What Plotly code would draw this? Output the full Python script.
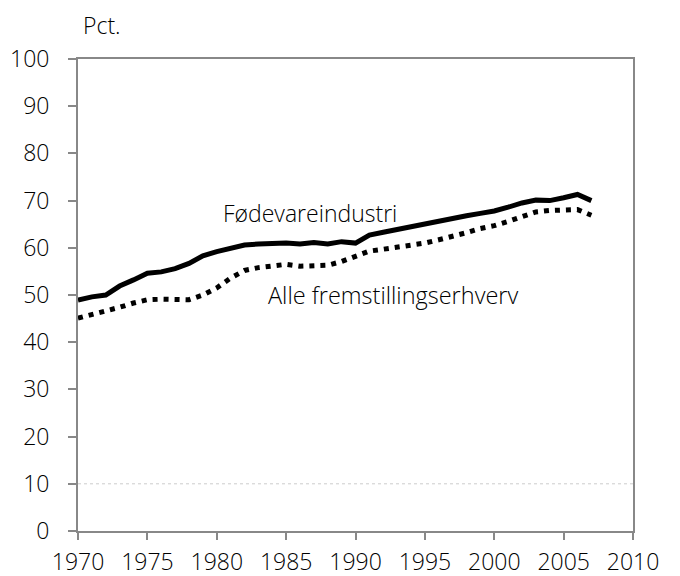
import plotly.graph_objects as go

years = list(range(1970, 2008))
foedevare = [48.9, 49.6, 50.0, 51.9, 53.2, 54.6, 54.9, 55.6, 56.7, 58.3,
             59.2, 60.0, 60.6, 60.8, 61.0, 61.0, 60.8, 61.1, 60.8, 61.3,
             61.0, 62.7, 63.3, 63.9, 64.5, 65.2, 65.7, 66.3, 66.8, 67.3,
             67.8, 68.6, 69.5, 70.1, 70.0, 70.6, 71.3, 70.0]
alle = [45.1, 45.8, 46.5, 47.4, 48.3, 49.0, 49.1, 49.1, 49.0, 50.0,
        51.5, 53.6, 55.2, 55.8, 56.2, 56.5, 56.1, 56.1, 56.3, 57.1,
        58.1, 59.3, 59.7, 60.1, 60.5, 61.0, 61.7, 62.4, 63.2, 64.1,
        64.7, 65.6, 66.6, 67.6, 67.9, 68.0, 68.1, 66.9]
x_ticks = list(range(1970, 2011, 5))
y_ticks = list(range(0, 101, 10))

FONT = "Open Sans"
fig = go.Figure()
fig.add_trace(go.Scatter(x=years, y=alle, mode="lines",
                         line=dict(color="black", width=5, dash="5px,6px")))
fig.add_trace(go.Scatter(x=years, y=foedevare, mode="lines",
                         line=dict(color="black", width=5)))

fig.add_shape(type="line", xref="paper", x0=0, x1=1, yref="y", y0=10, y1=10,
              line=dict(color="#cccccc", width=1, dash="dot"), layer="below")

fig.add_annotation(x=1986.7, y=67.3, text="Fødevareindustri", showarrow=False,
                   xanchor="center", yanchor="middle",
                   font=dict(size=23, color="black", family=FONT, weight=300))
fig.add_annotation(x=1992.7, y=49.9, text="Alle fremstillingserhverv", showarrow=False,
                   xanchor="center", yanchor="middle",
                   font=dict(size=23.5, color="black", family=FONT, weight=300))
fig.add_annotation(xref="paper", yref="paper", x=0.043, y=1.0, yshift=34, text="Pct.",
                   showarrow=False, xanchor="center", yanchor="middle",
                   font=dict(size=23, color="black", family=FONT, weight=300))

fig.update_layout(
    width=672, height=568,
    margin=dict(l=70, r=47, t=51, b=45, autoexpand=False),
    paper_bgcolor="white", plot_bgcolor="white",
    showlegend=False,
    font=dict(family=FONT, size=23, color="black", weight=300),
    xaxis=dict(range=[1970, 2010], tickvals=x_ticks, showgrid=False, zeroline=False,
               showline=True, linecolor="#888888", linewidth=2, mirror=True,
               ticks="outside", ticklen=7, tickwidth=2, tickcolor="#888888",
               ticklabelstandoff=2, automargin=False),
    yaxis=dict(range=[0, 100], tickvals=y_ticks, showgrid=False, zeroline=False,
               showline=True, linecolor="#888888", linewidth=2, mirror=True,
               ticks="outside", ticklen=8, tickwidth=2, tickcolor="#888888",
               ticklabelstandoff=14, automargin=False),
)
fig.write_html("out.html")
